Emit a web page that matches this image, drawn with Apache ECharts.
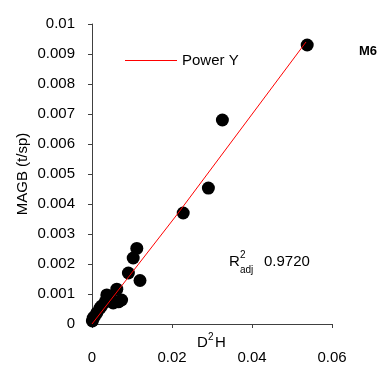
<!DOCTYPE html>
<html><head><meta charset="utf-8">
<script src="https://cdn.jsdelivr.net/npm/echarts@6/dist/echarts.min.js"></script>
<style>html,body{margin:0;padding:0;background:#fff}#c{width:391px;height:376px}</style>
</head><body><div id="c"></div>
<script>
// Observed data: D2H (x) vs MAGB t/sp (y)
const obsX = [0.0538, 0.0326, 0.0291, 0.0228, 0.0112, 0.0103, 0.0091, 0.0120, 0.0062, 0.0074, 0.0066, 0.0053, 0.0045, 0.0037, 0.0033, 0.0024, 0.0020, 0.0012, 0.0006, 0.0003, 0.0001];
const obsY = [0.0093, 0.0068, 0.00453, 0.0037, 0.00252, 0.0022, 0.0017, 0.00145, 0.00116, 0.0008, 0.00074, 0.0007, 0.00091, 0.00097, 0.00074, 0.0006, 0.00053, 0.00037, 0.00025, 0.0002, 0.0001];
// Power Y fitted curve
const fitX = [0.0, 0.0215, 0.0535];
const fitY = [0.0, 0.00369, 0.0094];
const xTicks = [0, 0.02, 0.04, 0.06];
const yTicks = [0, 0.001, 0.002, 0.003, 0.004, 0.005, 0.006, 0.007, 0.008, 0.009, 0.01];

const FONT = '"Liberation Sans", Arial, sans-serif';
const chart = echarts.init(document.getElementById('c'));
const axisLineStyle = {color: '#404040', width: 1};
const tickStyle = {show: true, length: 4, lineStyle: {color: '#404040', width: 1}};
const baseX = {type: 'value', min: 0, max: 0.06, interval: 0.02, splitLine: {show: false}};
const baseY = {type: 'value', min: 0, max: 0.01, interval: 0.001, splitLine: {show: false}};
chart.setOption({
  animation: false,
  grid: {left: 92, right: 59, top: 24, bottom: 52},
  legend: {
    data: [{name: 'Power Y', icon: 'path://M0,0 L52,0 L52,1 L0,1 Z'}],
    left: 120, top: 48, itemWidth: 52, itemHeight: 1.5, itemGap: 5,
    textStyle: {fontFamily: FONT, fontSize: 15, color: '#000'}
  },
  xAxis: [
    Object.assign({}, baseX, {
      axisLine: {show: true, lineStyle: axisLineStyle},
      axisTick: tickStyle,
      axisLabel: {fontFamily: FONT, fontSize: 15, color: '#000', margin: 26,
        formatter: v => { const t = xTicks.find(k => Math.abs(k - v) < 1e-9); return t === undefined ? '' : String(t); }}
    }),
    Object.assign({}, baseX, {
      axisLine: {show: false}, axisTick: Object.assign({}, tickStyle, {inside: true}), axisLabel: {show: false}
    })
  ],
  yAxis: [
    Object.assign({}, baseY, {
      name: 'MAGB (t/sp)', nameLocation: 'middle', nameGap: 62, nameMoveOverlap: false,
      nameTextStyle: {fontFamily: FONT, fontSize: 15, color: '#000'},
      axisLine: {show: true, lineStyle: axisLineStyle},
      axisTick: tickStyle,
      axisLabel: {fontFamily: FONT, fontSize: 15, color: '#000', margin: 17,
        formatter: v => { const t = yTicks.find(k => Math.abs(k - v) < 1e-9); return t === undefined ? '' : String(t); }}
    }),
    Object.assign({}, baseY, {
      axisLine: {show: false}, axisTick: Object.assign({}, tickStyle, {inside: true}), axisLabel: {show: false}
    })
  ],
  series: [
    {
      name: 'Observed', type: 'scatter', symbol: 'circle', symbolSize: 13,
      itemStyle: {color: '#000', opacity: 1},
      data: obsX.map((x, i) => [x, obsY[i]]), z: 2
    },
    {
      name: 'Power Y', type: 'line', symbol: 'none', smooth: false,
      lineStyle: {color: '#ff0000', width: 1}, itemStyle: {color: '#ff0000'},
      data: fitX.map((x, i) => [x, fitY[i]]), z: 3
    }
  ],
  graphic: [
    {type: 'text', left: 359, top: 45, style: {text: 'M6', font: 'bold 13px ' + FONT, fill: '#000'}},
    {type: 'text', left: 229, top: 254, style: {text: 'R', font: '15px ' + FONT, fill: '#000'}},
    {type: 'text', left: 240, top: 250, style: {text: '2', font: '10px ' + FONT, fill: '#000'}},
    {type: 'text', left: 240, top: 265, style: {text: 'adj', font: '10px ' + FONT, fill: '#000'}},
    {type: 'text', left: 264, top: 254, style: {text: '0.9720', font: '15px ' + FONT, fill: '#000'}},
    {type: 'text', left: 197, top: 335, style: {text: 'D', font: '15px ' + FONT, fill: '#000'}},
    {type: 'text', left: 208, top: 332, style: {text: '2', font: '10px ' + FONT, fill: '#000'}},
    {type: 'text', left: 215, top: 335, style: {text: 'H', font: '15px ' + FONT, fill: '#000'}}
  ]
});
</script></body></html>
